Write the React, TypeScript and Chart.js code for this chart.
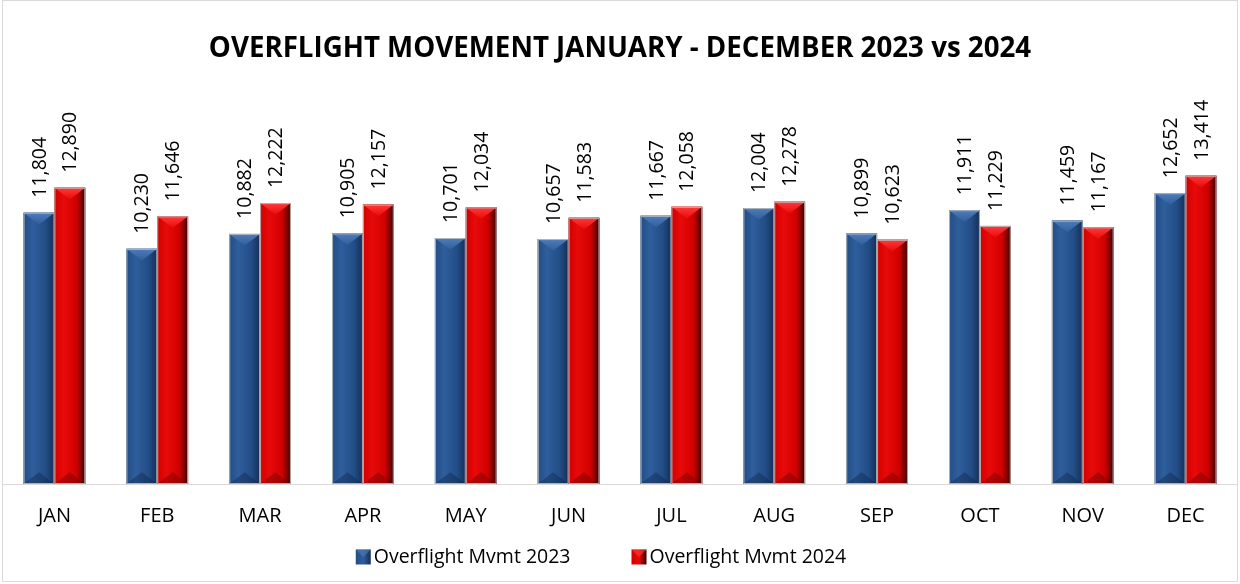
import React, { useEffect, useRef } from "react";
import { Chart, registerables } from "chart.js";

Chart.register(...registerables);

const months = ["JAN", "FEB", "MAR", "APR", "MAY", "JUN", "JUL", "AUG", "SEP", "OCT", "NOV", "DEC"];
const mvmt2023 = [11804, 10230, 10882, 10905, 10701, 10657, 11667, 12004, 10899, 11911, 11459, 12652];
const mvmt2024 = [12890, 11646, 12222, 12157, 12034, 11583, 12058, 12278, 10623, 11229, 11167, 13414];
const seriesNames = ["Overflight Mvmt 2023", "Overflight Mvmt 2024"];
const titleText = "OVERFLIGHT MOVEMENT JANUARY - DECEMBER 2023 vs 2024";

const FONT = "'Open Sans', 'Noto Sans', sans-serif";

const palettes = [
  { light: "#2f5e9c", base: "#224d86", dark: "#142f57", top: "#4f7dba", bottom: "rgba(10,30,60,0.35)", solid: "#1f4a80" },
  { light: "#e80a0a", base: "#d00000", dark: "#3a0000", top: "#ff3a3a", bottom: "rgba(80,0,0,0.35)", solid: "#c00000" },
];

const bevelPlugin = {
  id: "bevelBars",
  afterDatasetsDraw(chart: any) {
    const ctx = chart.ctx as CanvasRenderingContext2D;
    chart.data.datasets.forEach((ds: any, di: number) => {
      const meta = chart.getDatasetMeta(di);
      if (meta.hidden) return;
      const p = palettes[di];
      meta.data.forEach((bar: any, i: number) => {
        const { x, y, base, width } = bar.getProps(["x", "y", "base", "width"], true);
        const l = x - width / 2;
        const r = x + width / 2;
        const h = base - y;
        ctx.save();
        const g = ctx.createLinearGradient(l, 0, r, 0);
        g.addColorStop(0, p.base);
        g.addColorStop(0.3, p.light);
        g.addColorStop(0.72, p.base);
        g.addColorStop(1, p.dark);
        ctx.fillStyle = g;
        ctx.fillRect(l, y, width, h);
        const d = width * 0.38;
        const tg = ctx.createLinearGradient(0, y, 0, y + d);
        tg.addColorStop(0, p.top);
        tg.addColorStop(1, p.light);
        ctx.fillStyle = tg;
        ctx.beginPath();
        ctx.moveTo(l, y);
        ctx.lineTo(r, y);
        ctx.lineTo(x, y + d);
        ctx.closePath();
        ctx.fill();
        ctx.fillStyle = p.bottom;
        ctx.beginPath();
        ctx.moveTo(l, base);
        ctx.lineTo(r, base);
        ctx.lineTo(x, base - d);
        ctx.closePath();
        ctx.fill();
        ctx.strokeStyle = "rgba(190,190,190,0.9)";
        ctx.lineWidth = 1;
        ctx.strokeRect(l + 0.5, y + 0.5, width - 1, h - 1);
        ctx.restore();

        // value label, rotated
        const v = ds.data[i] as number;
        ctx.save();
        ctx.translate(x, y - 15);
        ctx.rotate(-Math.PI / 2);
        ctx.font = `19.5px ${FONT}`;
        ctx.fillStyle = "#000";
        ctx.textAlign = "left";
        ctx.textBaseline = "middle";
        ctx.fillText(v.toLocaleString("en-US"), 0, 1);
        ctx.restore();
      });
    });
  },
};

const legendPlugin = {
  id: "bevelLegend",
  afterDraw(chart: any) {
    const ctx = chart.ctx as CanvasRenderingContext2D;
    ctx.save();
    ctx.font = `19.5px ${FONT}`;
    const box = 15;
    const gapText = 3;
    const gapItem = 61;
    const items = chart.data.datasets.map((ds: any) => ds.label as string);
    const widths = items.map((t: string) => box + gapText + ctx.measureText(t).width);
    const total = widths.reduce((a: number, b: number) => a + b, 0) + gapItem * (items.length - 1);
    let cx = (chart.chartArea.left + chart.chartArea.right) / 2 - total / 2 - 19;
    const cy = 557;
    items.forEach((t: string, i: number) => {
      const p = palettes[i];
      const g = ctx.createLinearGradient(cx, 0, cx + box, 0);
      g.addColorStop(0, p.base);
      g.addColorStop(0.5, p.light);
      g.addColorStop(1, p.dark);
      ctx.fillStyle = g;
      ctx.fillRect(cx, cy - box / 2, box, box);
      ctx.fillStyle = p.top;
      ctx.beginPath();
      ctx.moveTo(cx, cy - box / 2);
      ctx.lineTo(cx + box, cy - box / 2);
      ctx.lineTo(cx + box / 2, cy);
      ctx.closePath();
      ctx.globalAlpha = 0.6;
      ctx.fill();
      ctx.globalAlpha = 1;
      ctx.fillStyle = "#000";
      ctx.textAlign = "left";
      ctx.textBaseline = "middle";
      ctx.fillText(t, cx + box + gapText, cy);
      cx += widths[i] + gapItem;
    });
    ctx.restore();
  },
};

export default function App() {
  const ref = useRef<HTMLCanvasElement | null>(null);
  useEffect(() => {
    if (!ref.current) return;
    const chart = new Chart(ref.current, {
      type: "bar",
      data: {
        labels: months,
        datasets: [
          { label: seriesNames[0], data: mvmt2023, backgroundColor: palettes[0].solid, categoryPercentage: 0.6, barPercentage: 1.0 },
          { label: seriesNames[1], data: mvmt2024, backgroundColor: palettes[1].solid, categoryPercentage: 0.6, barPercentage: 1.0 },
        ],
      },
      options: {
        animation: false,
        responsive: false,
        maintainAspectRatio: false,
        layout: { padding: { left: 3, right: 3, top: 2, bottom: 36 } },
        plugins: {
          legend: { display: false },
          tooltip: { enabled: false },
          title: {
            display: true,
            text: titleText,
            color: "#000",
            font: { family: FONT, size: 27.7, weight: "bold" },
            padding: { top: 30, bottom: 51 },
          },
        },
        scales: {
          x: {
            grid: { display: false, drawTicks: false },
            border: { display: true, color: "#d9d9d9", width: 1 },
            ticks: { color: "#000", font: { family: FONT, size: 20 }, padding: 20 },
          },
          y: { display: false, min: 0, max: 16000 },
        },
      },
      plugins: [bevelPlugin, legendPlugin],
    });
    return () => chart.destroy();
  }, []);
  return (
    <div style={{ position: "absolute", left: 0, top: 0, width: 1240, height: 584, background: "#fff" }}>
      <div style={{ position: "absolute", left: 2, top: 0, width: 1236, height: 582, border: "1px solid #d9d9d9", boxSizing: "border-box" }} />
      <canvas ref={ref} width={1240} height={584} style={{ position: "absolute", left: 0, top: 0 }} />
    </div>
  );
}
